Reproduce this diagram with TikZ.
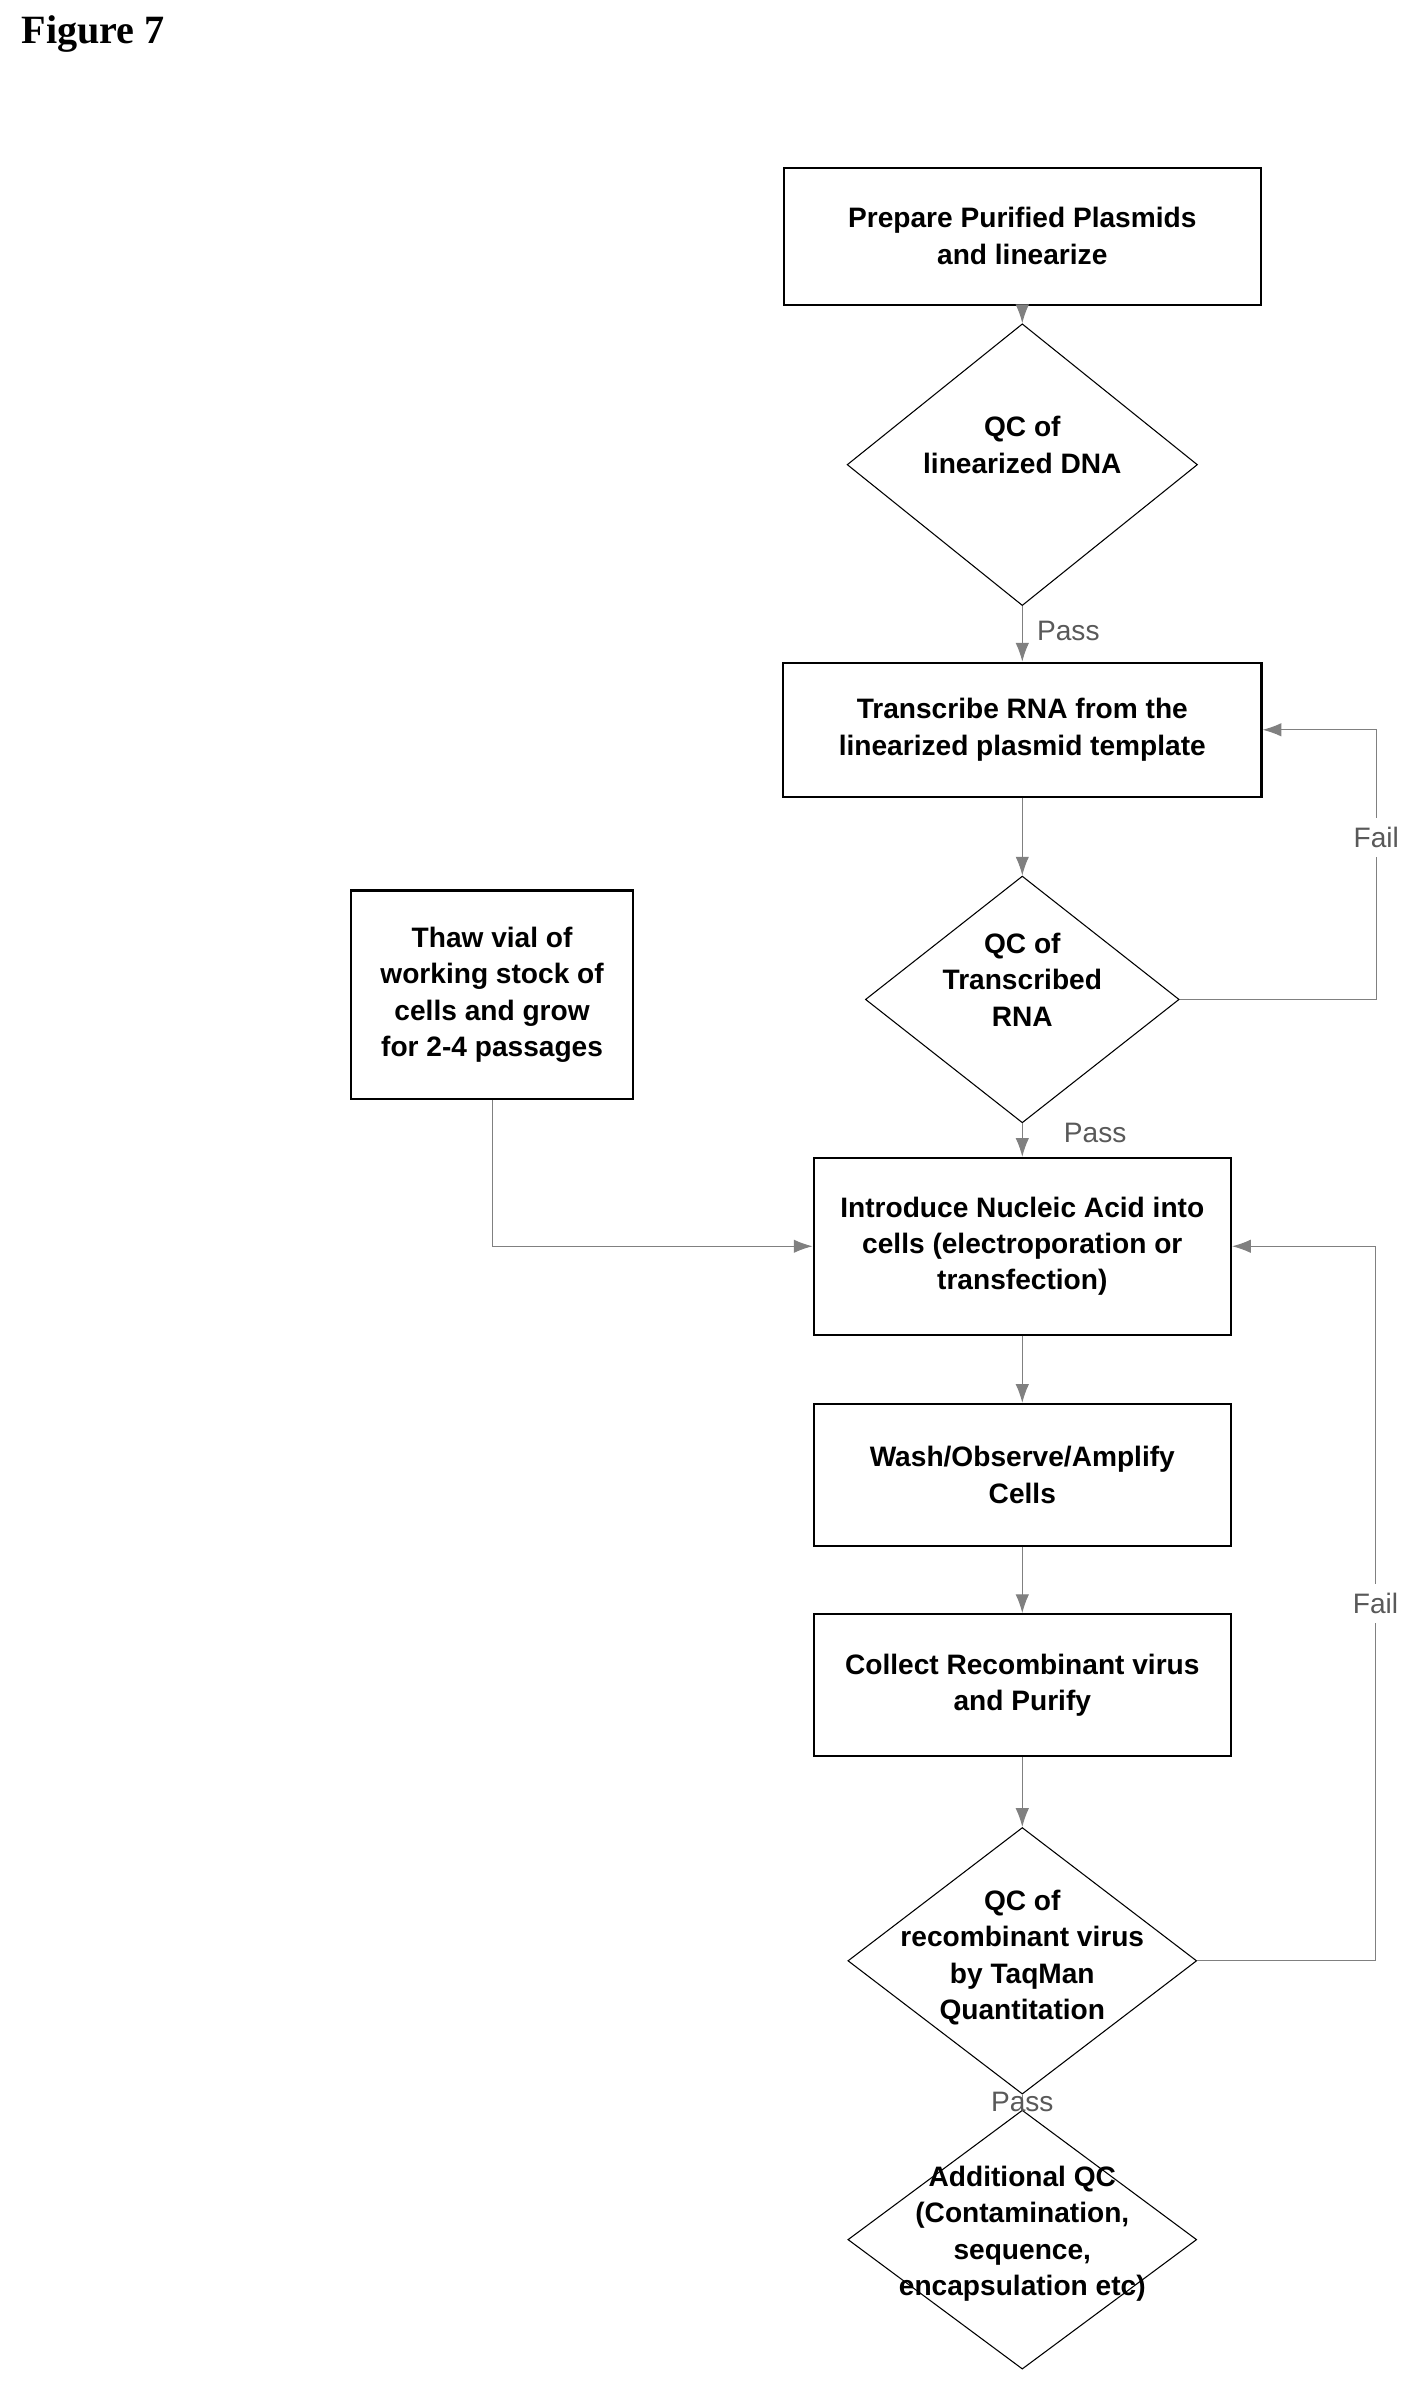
\documentclass[tikz,border=0pt]{standalone}
\usepackage{fontspec}
\setmainfont{Liberation Sans}
\newfontfamily\figfont{Liberation Serif}
\usetikzlibrary{shapes.geometric,arrows.meta}
\begin{document}
\begin{tikzpicture}[x=0.02cm,y=-0.02cm,
    font=\fontsize{10.5}{13.6}\selectfont\bfseries,
    stepbox/.style={draw,thick,align=center,inner sep=0pt},
    check/.style={draw,diamond,inner sep=0pt},
    flow/.style={draw=gray,-{Latex[length=7pt,width=5pt]}},
    lbl/.style={text=gray!70!black,font=\fontsize{10.5}{13}\selectfont}]
    \useasboundingbox (0,0) rectangle (935,1572);
    \node[anchor=west,font=\figfont\fontsize{15}{18}\selectfont\bfseries] (fig) at (8,22) {Figure 7};

    \node[stepbox,minimum width=6.26cm,minimum height=1.8cm] (plasmid) at (671,155) {Prepare Purified Plasmids\\and linearize};
    \node[check,minimum width=4.6cm,minimum height=3.7cm] (qcdna) at (671,305) {};
    \node[align=center] (qcdnat) at (671,292) {QC of\\linearized DNA};
    \node[stepbox,minimum width=6.28cm,minimum height=1.76cm] (rna) at (671,479) {Transcribe RNA from the\\linearized plasmid template};
    \node[check,minimum width=4.12cm,minimum height=3.24cm] (qcrna) at (671,656) {};
    \node[align=center] (qcrnat) at (671,643) {QC of\\Transcribed\\RNA};
    \node[stepbox,minimum width=3.7cm,minimum height=2.74cm] (thaw) at (323,653) {Thaw vial of\\working stock of\\cells and grow\\for 2-4 passages};
    \node[stepbox,minimum width=5.48cm,minimum height=2.32cm] (intro) at (671,818) {Introduce Nucleic Acid into\\cells (electroporation or\\transfection)};
    \node[stepbox,minimum width=5.48cm,minimum height=1.86cm] (wash) at (671,968) {Wash/Observe/Amplify\\Cells};
    \node[stepbox,minimum width=5.48cm,minimum height=1.86cm] (collect) at (671,1106) {Collect Recombinant virus\\and Purify};
    \node[check,minimum width=4.58cm,minimum height=3.5cm] (qcvir) at (671,1287) {};
    \node[align=center] (qcvirt) at (671,1285) {QC of\\recombinant virus\\by TaqMan\\Quantitation};
    \node[check,minimum width=4.58cm,minimum height=3.4cm] (addqc) at (671,1470) {};
    \node[align=center] (addqct) at (671,1466) {Additional QC\\(Contamination,\\sequence,\\encapsulation etc)};

    \draw[flow] (plasmid) -- (qcdna);
    \draw[flow] (qcdna) -- (rna) node[lbl,pos=0.45,right=2pt] {Pass};
    \draw[flow] (rna) -- (qcrna);
    \draw[flow] (qcrna.east) -- ++(129,0) |- (rna.east) node[lbl,pos=0.3,fill=white] {Fail};
    \draw[flow] (qcrna) -- (intro) node[lbl,pos=0.3,right=12pt] {Pass};
    \draw[flow] (thaw.south) |- (intro.west);
    \draw[flow] (intro) -- (wash);
    \draw[flow] (wash) -- (collect);
    \draw[flow] (collect) -- (qcvir);
    \draw[flow] (qcvir.east) -- ++(117,0) |- (intro.east) node[lbl,pos=0.25,fill=white] {Fail};
    \draw[draw=gray] (qcvir) -- (addqc) node[lbl,midway] {Pass};
\end{tikzpicture}
\end{document}
